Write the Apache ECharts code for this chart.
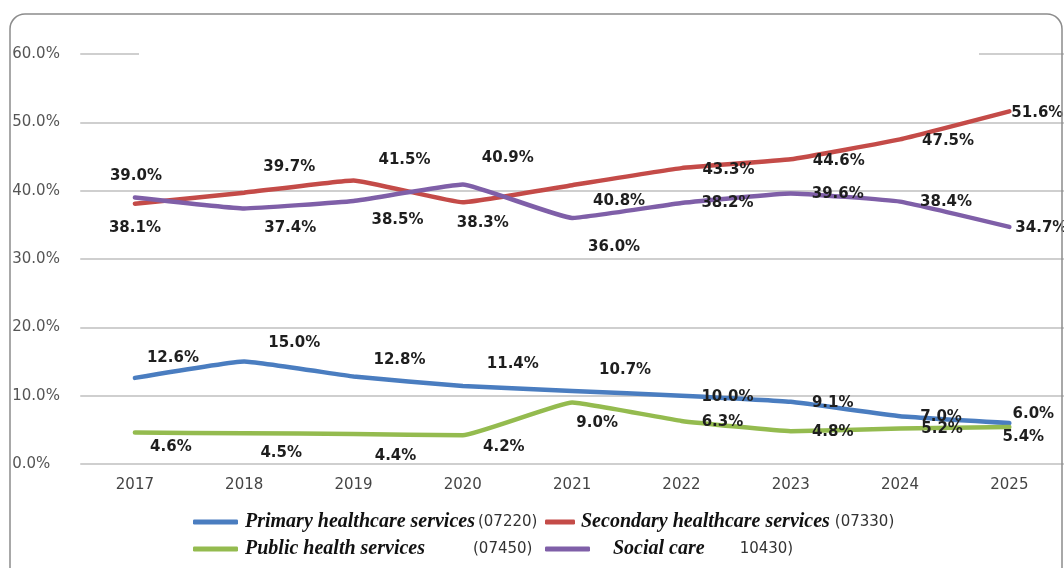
<!DOCTYPE html>
<html>
<head>
<meta charset="utf-8">
<script src="https://cdn.jsdelivr.net/npm/echarts@6/dist/echarts.min.js"></script>
<style>
  html, body { margin: 0; padding: 0; background: #fff; }
  #chart { width: 1064px; height: 568px; }
</style>
</head>
<body>
<div id="chart"></div>
<script>
// Spending shares by function, 2017-2025
const years = ['2017', '2018', '2019', '2020', '2021', '2022', '2023', '2024', '2025'];
const primaryCare = [12.6, 15.0, 12.8, 11.4, 10.7, 10.0, 9.1, 7.0, 6.0];
const secondaryCare = [38.1, 39.7, 41.5, 38.3, 40.8, 43.3, 44.6, 47.5, 51.6];
const publicHealth = [4.6, 4.5, 4.4, 4.2, 9.0, 6.3, 4.8, 5.2, 5.4];
const socialCare = [39.0, 37.4, 38.5, 40.9, 36.0, 38.2, 39.6, 38.4, 34.7];
const seriesNames = ['Primary healthcare services', 'Secondary healthcare services', 'Public health services', 'Social care'];
const seriesCodes = ['(07220)', '(07330)', '(07450)', '10430)'];
const yTicks = [0, 10, 20, 30, 40, 50, 60];

// Label placement relative to each point (px), per series
const labelShift = {
  primary:   [[38,-20],[50,-18],[46,-16],[50,-22],[53,-21],[46,1],[42,1],[41,1],[24,-9]],
  secondary: [[0,24],[45,-26],[51,-20],[20,21],[47,16],[47,2],[48,2],[48,2],[28,2]],
  publicH:   [[36,15],[37,20],[42,22],[41,12],[25,21],[41,1],[42,1],[42,1],[14,10]],
  social:    [[1,-21],[46,20],[44,19],[45,-26],[42,29],[46,0],[47,1],[46,1],[32,1]]
};

const colors = ['#4a7dc0', '#c44b48', '#94bb4f', '#7f5fa8'];

function withLabels(values, shifts) {
  return values.map((v, i) => ({
    value: v,
    label: { position: shifts[i], align: 'center', verticalAlign: 'middle' }
  }));
}

function lineSeries(name, values, shifts, color) {
  return {
    name: name,
    type: 'line',
    data: withLabels(values, shifts),
    smooth: 0.1,
    showSymbol: true,
    symbol: 'circle',
    symbolSize: 0,
    lineStyle: { width: 4.5, color: color, cap: 'round' },
    itemStyle: { color: color },
    label: {
      show: true,
      formatter: p => p.value.toFixed(1) + '%',
      fontFamily: 'DejaVu Sans',
      fontWeight: 'bold',
      fontSize: 15,
      color: '#1e1e1e'
    },
    labelLayout: { hideOverlap: false },
    emphasis: { disabled: true },
    z: 3
  };
}

function legendItem(idx, left, top, iconW, lead, gap) {
  return {
    data: [seriesNames[idx]],
    left: left,
    top: top,
    padding: 0,
    icon: 'roundRect',
    itemWidth: iconW,
    itemHeight: 5,
    itemGap: 0,
    selectedMode: false,
    formatter: name => '{l|}{n|' + name + '}{g|}{c|' + seriesCodes[idx] + '}',
    textStyle: {
      padding: [0, 0, 0, 0],
      rich: {
        l: { width: lead },
        n: { fontFamily: 'Liberation Serif', fontStyle: 'italic', fontWeight: 'bold', fontSize: 20, color: '#111' },
        g: { width: gap },
        c: { fontFamily: 'DejaVu Sans', fontSize: 15, color: '#333' }
      }
    }
  };
}

const chart = echarts.init(document.getElementById('chart'), null, { renderer: 'canvas' });

chart.setOption({
  animation: false,
  backgroundColor: '#ffffff',
  grid: { left: 80.25, top: 54, width: 985.5, height: 410, containLabel: false },
  xAxis: {
    type: 'category',
    data: years,
    boundaryGap: true,
    axisLine: { show: false },
    axisTick: { show: false },
    axisLabel: { margin: 14, fontFamily: 'DejaVu Sans', fontSize: 15, color: '#444' }
  },
  yAxis: {
    type: 'value',
    min: yTicks[0],
    max: yTicks[yTicks.length - 1],
    interval: 10,
    axisLine: { show: false },
    axisTick: { show: false },
    axisLabel: {
      align: 'left',
      margin: 68,
      fontFamily: 'DejaVu Sans',
      fontSize: 15,
      color: '#555',
      formatter: v => v.toFixed(1) + '%'
    },
    splitLine: { lineStyle: { color: '#cfcfcf', width: 2 } }
  },
  legend: [
    legendItem(0, 193, 512, 45, 2, 3),
    legendItem(1, 545, 512, 30, 1, 5),
    legendItem(2, 193, 539, 45, 2, 48),
    legendItem(3, 545, 539, 45, 18, 35)
  ],
  series: [
    lineSeries(seriesNames[0], primaryCare, labelShift.primary, colors[0]),
    lineSeries(seriesNames[1], secondaryCare, labelShift.secondary, colors[1]),
    lineSeries(seriesNames[2], publicHealth, labelShift.publicH, colors[2]),
    lineSeries(seriesNames[3], socialCare, labelShift.social, colors[3])
  ],
  graphic: [
    // blank band over the middle of the top gridline
    { type: 'rect', shape: { x: 139, y: 48, width: 840, height: 12 }, style: { fill: '#ffffff' }, z: 5 },
    // rounded frame
    { type: 'rect', shape: { x: 10, y: 14, width: 1052, height: 620, r: 15 },
      style: { fill: 'none', stroke: '#8c8c8c', lineWidth: 1.5 }, z: 6, silent: true }
  ]
});
</script>
</body>
</html>
